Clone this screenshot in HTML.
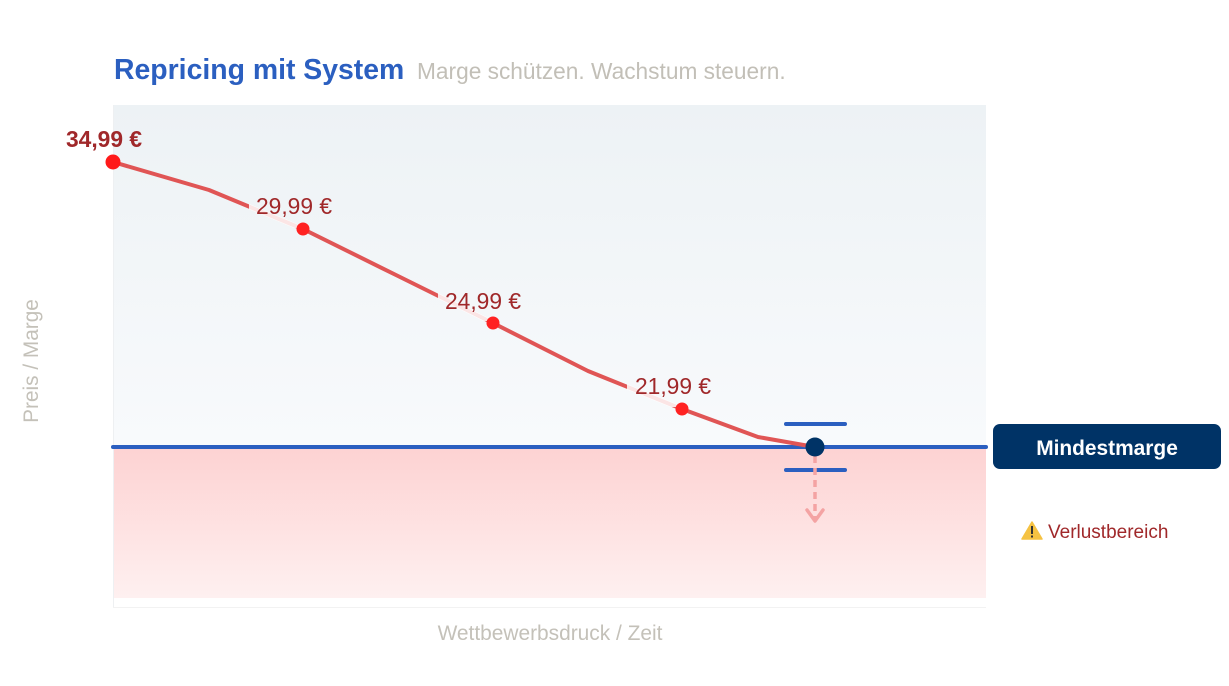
<!DOCTYPE html>
<html><head><meta charset="utf-8"><style>
html,body{margin:0;padding:0;background:#fff;}
svg{display:block;font-family:"Liberation Sans",sans-serif;}
</style></head><body>
<svg width="1229" height="686" viewBox="0 0 1229 686" xmlns="http://www.w3.org/2000/svg">
<defs>
<linearGradient id="gTop" x1="0" y1="0" x2="0" y2="1">
<stop offset="0" stop-color="#edf2f5"/><stop offset="1" stop-color="#f8fafc"/>
</linearGradient>
<linearGradient id="gBot" x1="0" y1="0" x2="0" y2="1">
<stop offset="0" stop-color="#fdd2d2"/><stop offset="1" stop-color="#fef0f0"/>
</linearGradient>
<clipPath id="halo">
<rect x="249" y="192" width="52" height="36"/>
<rect x="438" y="287" width="52" height="34"/>
<rect x="627" y="372" width="52" height="35"/>
</clipPath>
</defs>
<rect x="0" y="0" width="1229" height="686" fill="#fff"/>
<text x="114" y="79" font-size="28.4" font-weight="bold" fill="#2b5fc0">Repricing mit System</text>
<text x="417" y="79" font-size="22.7" fill="#c2bfb7">Marge schützen. Wachstum steuern.</text>
<rect x="113" y="105" width="873" height="342" fill="url(#gTop)"/>
<rect x="113" y="447" width="873" height="151" fill="url(#gBot)"/>
<line x1="113.5" y1="105" x2="113.5" y2="607" stroke="#eef0f2" stroke-width="1"/>
<line x1="113" y1="607.5" x2="986" y2="607.5" stroke="#f2f2f2" stroke-width="1"/>
<text transform="translate(38,361) rotate(-90)" text-anchor="middle" font-size="20.8" fill="#c4c1b9">Preis / Marge</text>
<text x="550" y="640" text-anchor="middle" font-size="20.9" fill="#c4c1b9">Wettbewerbsdruck / Zeit</text>
<line x1="113" y1="447" x2="986" y2="447" stroke="#2b5fc0" stroke-width="4" stroke-linecap="round"/>
<polyline points="113,162 209,190 303,229 398,276 493,323 588,371 682,409 758,437 815,447" fill="none" stroke="#e05555" stroke-width="4" stroke-linejoin="round"/>
<polyline clip-path="url(#halo)" points="113,162 209,190 303,229 398,276 493,323 588,371 682,409 758,437 815,447" fill="none" stroke="#fff" stroke-opacity="0.85" stroke-width="5" stroke-linejoin="round"/>
<circle cx="113" cy="162" r="7.5" fill="#ff1a1a"/>
<circle cx="303" cy="229" r="6.5" fill="#ff2222"/>
<circle cx="493" cy="323" r="6.5" fill="#ff2222"/>
<circle cx="682" cy="409" r="6.5" fill="#ff2222"/>
<text x="104" y="147" text-anchor="middle" font-size="22.8" font-weight="bold" fill="#a0282a">34,99 €</text>
<text x="294" y="214" text-anchor="middle" font-size="22.8" fill="#a0282a">29,99 €</text>
<text x="483" y="309" text-anchor="middle" font-size="22.8" fill="#a0282a">24,99 €</text>
<text x="673" y="394" text-anchor="middle" font-size="22.8" fill="#a0282a">21,99 €</text>
<line x1="786" y1="424" x2="845" y2="424" stroke="#2b5fc0" stroke-width="4" stroke-linecap="round"/>
<line x1="786" y1="470" x2="845" y2="470" stroke="#2b5fc0" stroke-width="4" stroke-linecap="round"/>
<line x1="815" y1="456" x2="815" y2="520" stroke="#f4a3a3" stroke-width="3.5" stroke-dasharray="7,5"/>
<polyline points="807,510 815,521 823,510" fill="none" stroke="#f4a3a3" stroke-width="3.5" stroke-linecap="round" stroke-linejoin="round"/>
<circle cx="815" cy="447" r="9.5" fill="#003366"/>
<rect x="993" y="424" width="228" height="45" rx="7" fill="#003366"/>
<text x="1107" y="455" text-anchor="middle" font-size="20.9" font-weight="bold" fill="#fff">Mindestmarge</text>
<polygon points="1032,522 1042,539 1022,539" fill="#f5c242" stroke="#f5c242" stroke-width="1.5" stroke-linejoin="round"/>
<rect x="1031" y="526" width="2" height="8" fill="#333"/>
<rect x="1031" y="535.5" width="2" height="2" fill="#333"/>
<text x="1048" y="538" font-size="19" fill="#a0282a">Verlustbereich</text>
</svg>
</body></html>
